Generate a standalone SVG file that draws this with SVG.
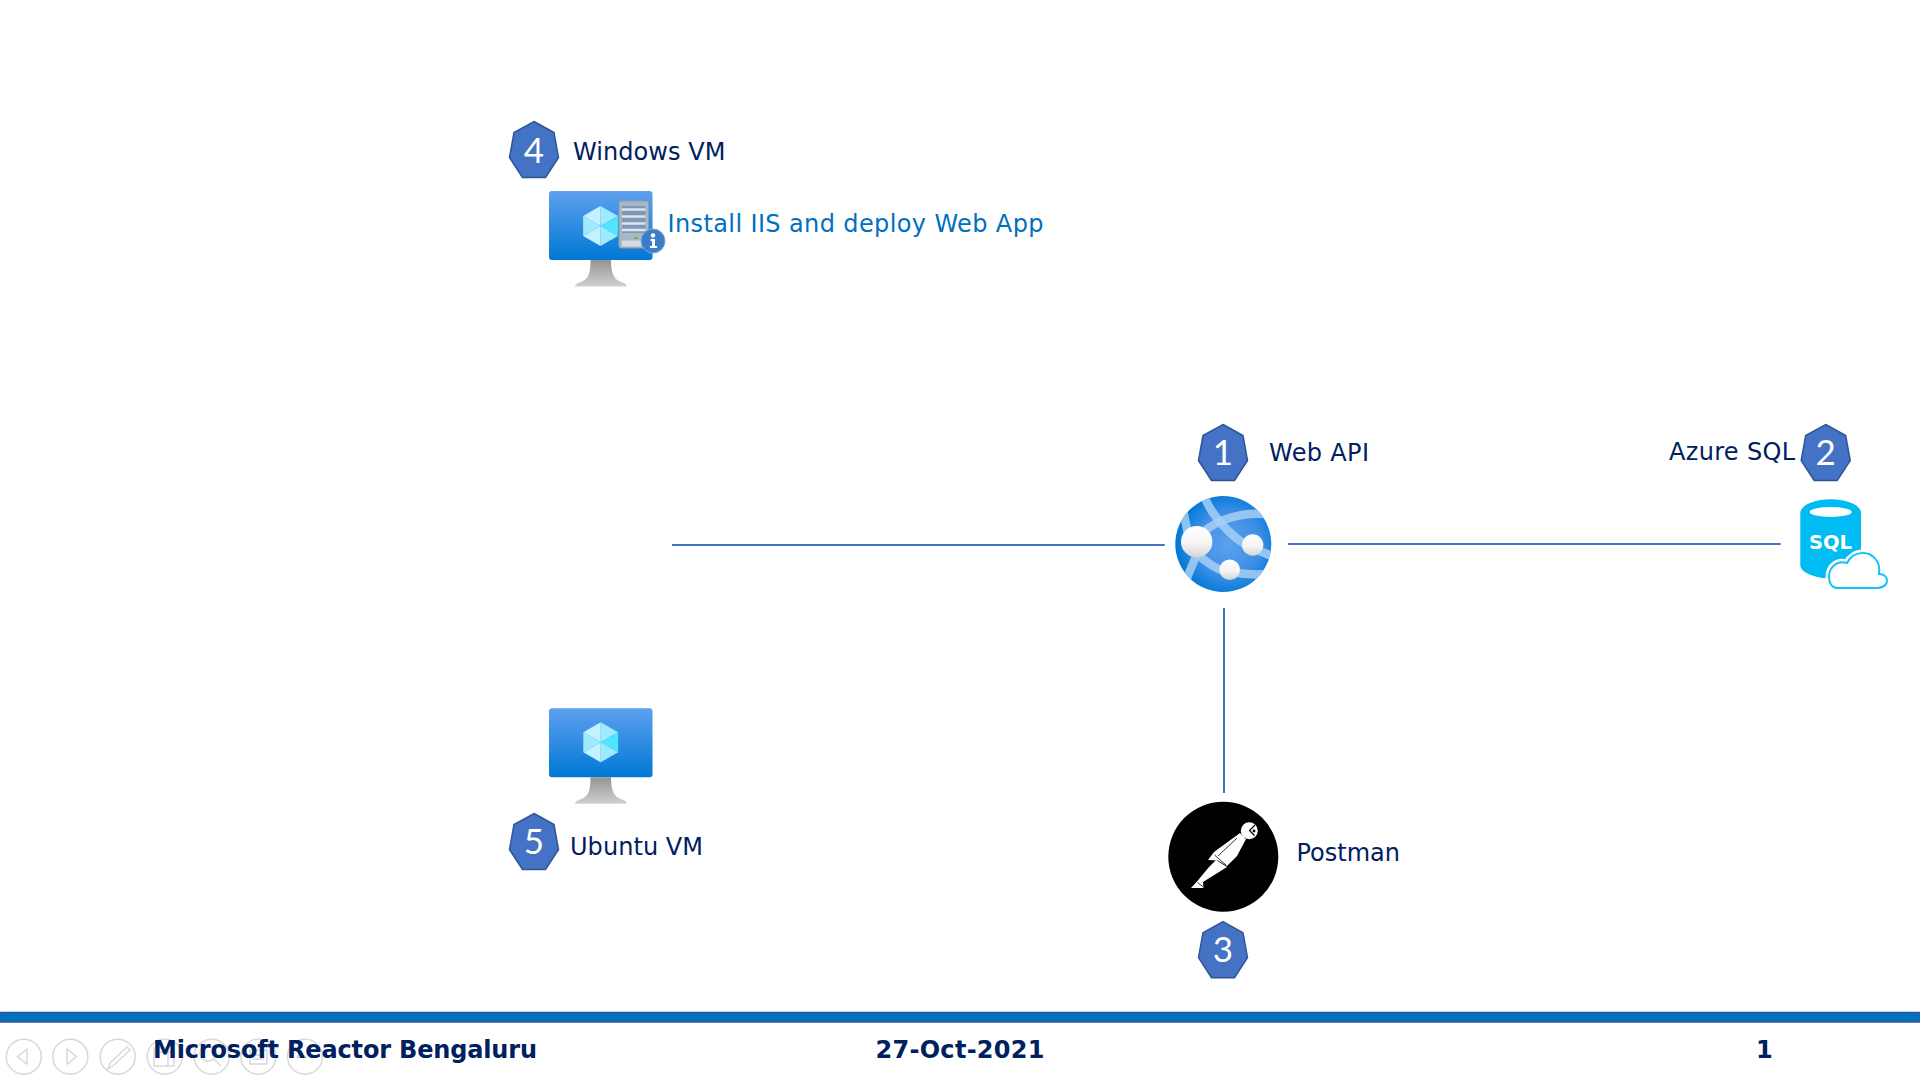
<svg xmlns="http://www.w3.org/2000/svg" xmlns:xlink="http://www.w3.org/1999/xlink" width="1920" height="1080" viewBox="0 0 1920 1080">
<style>
.t{font-family:"DejaVu Sans","Liberation Sans",sans-serif;font-size:24px;fill:#002060}
.f{font-weight:700}
.d{font-family:Lato,"Open Sans",sans-serif;font-size:35px;fill:#fff;text-anchor:middle}
.h{fill:#4472c4;stroke:#2f5597;stroke-width:1.5}
.c{fill:none;stroke:#4472c4;stroke-width:2}
.b{fill:none;stroke:#a6cff5;stroke-width:8.500;stroke-opacity:.85}
.tb{fill:none;stroke:#d9d9d9;stroke-width:1.5}
</style>
<defs>
<polygon id="hept" points="0,0 20,11 24.500,36 11.500,56 -11.500,56 -24.500,36 -20,11"/>
<linearGradient id="scr" x1="0" y1="0" x2="0" y2="1"><stop offset="0" stop-color="#5ea0ef"/><stop offset="1" stop-color="#0078d4"/></linearGradient>
<linearGradient id="std" x1="0" y1="0" x2="0" y2="1"><stop offset="0" stop-color="#949494"/><stop offset="1" stop-color="#d0d0d0"/></linearGradient>
<radialGradient id="globe" cx=".55" cy=".5" r=".55"><stop offset="0" stop-color="#5ea0ef"/><stop offset=".6" stop-color="#3d8fe6"/><stop offset="1" stop-color="#0078d4"/></radialGradient>
<linearGradient id="ball" x1="0" y1="0" x2="0" y2="1"><stop offset="0" stop-color="#fff"/><stop offset=".55" stop-color="#f5f5f5"/><stop offset="1" stop-color="#d4d4d4"/></linearGradient>
<clipPath id="gc"><circle cx="1223.300" cy="544" r="48"/></clipPath>
<g id="vm">
<rect x="0" y="0" width="103.500" height="69" rx="3" fill="url(#scr)"/>
<path d="M41.500 69H62C62 80 64 87 70 90C74 92 77 92 78 95.500H26C27 92 30 92 34 90C40 87 41.500 80 41.500 69Z" fill="url(#std)"/>
</g>
<g id="cube">
<polygon points="0,0 -17.400,-10 0,-20" fill="#c3f1ff"/>
<polygon points="0,0 0,-20 17.400,-10" fill="#9cebff"/>
<polygon points="0,0 17.400,-10 17.400,10" fill="#50e6ff"/>
<polygon points="0,0 17.400,10 0,20" fill="#9cebff"/>
<polygon points="0,0 0,20 -17.400,10" fill="#c3f1ff"/>
<polygon points="0,0 -17.400,10 -17.400,-10" fill="#9cebff"/>
</g>
</defs>
<rect width="1920" height="1080" fill="#fff"/>

<g id="connectors">
<line class="c" x1="672" y1="545" x2="1164.700" y2="545"/>
<line class="c" x1="1288" y1="544" x2="1780.700" y2="544"/>
<line class="c" x1="1224" y1="608" x2="1224" y2="793"/>
</g>

<g id="windows-vm">
<use href="#hept" class="h" x="534" y="121.500"/>
<text class="d" x="534" y="163">4</text>
<text class="t" x="573" y="160" textLength="152.500">Windows VM</text>
<use href="#vm" x="549" y="191"/>
<use href="#cube" x="600.500" y="226"/>
<rect x="619" y="201" width="29.500" height="47" rx="2" fill="#a9b6c4" stroke="#8d9cad"/>
<rect x="622" y="206" width="23.500" height="27" fill="#7f98b4"/>
<path d="M622 209.500H645.500M622 216.500H645.500M622 223.500H645.500M622 230H645.500" stroke="#dce5ee" stroke-width="2.500"/>
<rect x="622" y="240.500" width="23" height="6" fill="#d6dbe0"/>
<rect x="634.500" y="237" width="3" height="2" fill="#5fae3c"/>
<circle cx="653" cy="241" r="12" fill="#3d7cc9" stroke="#7aa7dc"/>
<circle cx="653" cy="235.500" r="2.200" fill="#fff"/>
<path d="M650.500 239H655V246H657V248H650V246H652V241H650.500Z" fill="#fff"/>
<text class="t" x="667.500" y="231.500" textLength="376" style="fill:#0070c0">Install IIS and deploy Web App</text>
</g>

<g id="web-api">
<use href="#hept" class="h" x="1223" y="424.500"/>
<text class="d" x="1223" y="465">1</text>
<text class="t" x="1269" y="461" textLength="100">Web API</text>
<circle cx="1223.300" cy="544" r="48" fill="url(#globe)"/>
<g clip-path="url(#gc)">
<path class="b" d="M1205 498C1212 516 1232 538 1250 547C1258 551 1266 553 1274 557"/>
<path class="b" d="M1264 514C1240 512 1218 520 1203 532L1192 542"/>
<path class="b" d="M1183 510L1190 543"/>
<path class="b" d="M1196 556L1187 578"/>
<path class="b" d="M1198 555C1208 563 1218 571 1230 572C1242 574 1254 575 1266 574"/>
</g>
<circle cx="1196.700" cy="541.700" r="15.700" fill="url(#ball)"/>
<circle cx="1252.700" cy="545" r="10.700" fill="url(#ball)"/>
<circle cx="1229.700" cy="569.700" r="10.300" fill="url(#ball)"/>
</g>

<g id="azure-sql">
<use href="#hept" class="h" x="1825.700" y="424.500"/>
<text class="d" x="1825.700" y="465">2</text>
<text class="t" x="1669" y="460" textLength="126">Azure SQL</text>
<path d="M1800.300 513C1800.300 505 1815 499.300 1830.700 499.300S1861 505 1861 513V565C1861 573 1845 578.500 1830.700 578.500S1800.300 573 1800.300 565Z" fill="#00bcf2"/>
<ellipse cx="1830.700" cy="512" rx="21" ry="5" fill="#fff"/>
<text x="1809" y="549.300" style="font-family:'DejaVu Sans',sans-serif;font-weight:700;font-size:19.500px;fill:#fff">SQL</text>
<path d="M1837 588H1877C1884 588 1887 584 1887 581C1887 577 1884 574 1879 574C1881 562 1873 553 1863 553C1856 553 1850 557 1847 563C1836 560 1829 568 1829 577C1829 583 1832 588 1837 588Z" fill="#fff" stroke="#fff" stroke-width="7"/>
<path d="M1837 588H1877C1884 588 1887 584 1887 581C1887 577 1884 574 1879 574C1881 562 1873 553 1863 553C1856 553 1850 557 1847 563C1836 560 1829 568 1829 577C1829 583 1832 588 1837 588Z" fill="#fff" stroke="#12c3f5" stroke-width="2"/>
</g>

<g id="postman">
<circle cx="1223.300" cy="856.700" r="55" fill="#000"/>
<circle cx="1249.300" cy="830.700" r="8.500" fill="#fff"/>
<path d="M1255 825L1249.500 830.500L1254.500 835.500" fill="none" stroke="#000" stroke-width="1.200"/>
<circle cx="1254" cy="831" r="1.400" fill="#000"/>
<polygon points="1240,833 1246,839 1237,856 1227,866 1218,860.500 1208,860 1214,852" fill="#fff"/>
<polygon points="1227,867 1203,882 1203.500,888 1191,888 1197,881.500 1209,867 1216,860" fill="#fff"/>
<path d="M1237 838L1218 856M1214.500 855L1226 865" fill="none" stroke="#000" stroke-width=".8"/>
<path d="M1197.500 882.500L1203.500 887" fill="none" stroke="#000" stroke-width=".8"/>
<text class="t" x="1296.500" y="861" textLength="103.500">Postman</text>
<use href="#hept" class="h" x="1223" y="921.700"/>
<text class="d" x="1223" y="962">3</text>
</g>

<g id="ubuntu-vm">
<use href="#vm" x="549" y="708.300"/>
<use href="#cube" x="600.700" y="742.300"/>
<use href="#hept" class="h" x="534" y="813.500"/>
<text class="d" x="534" y="854">5</text>
<text class="t" x="570" y="855" textLength="133">Ubuntu VM</text>
</g>

<g id="toolbar">
<circle class="tb" cx="23.800" cy="1056.700" r="17.500"/><path class="tb" d="M27 1049L17.500 1056.700L27 1064Z"/>
<circle class="tb" cx="70.300" cy="1056.700" r="17.500"/><path class="tb" d="M67 1049L76.500 1056.700L67 1064Z"/>
<circle class="tb" cx="117.700" cy="1056.700" r="17.500"/><path class="tb" d="M127 1047L130 1050L114 1065L108 1069L110 1063Z"/>
<circle class="tb" cx="164.700" cy="1056.700" r="17.500"/><path class="tb" d="M154 1048H168V1066H154ZM160 1052H174V1066H160"/>
<circle class="tb" cx="211.700" cy="1056.700" r="17.500"/><circle class="tb" cx="208" cy="1053" r="8"/><path class="tb" d="M214 1059L221 1066"/>
<circle class="tb" cx="258.300" cy="1056.700" r="17.500"/><path class="tb" d="M250 1050H267V1064H250ZM253 1055H264M253 1059H264"/>
<circle class="tb" cx="305" cy="1056.700" r="17.500"/><circle class="tb" cx="298" cy="1057" r="1"/><circle class="tb" cx="305" cy="1057" r="1"/><circle class="tb" cx="312" cy="1057" r="1"/>
</g>

<g id="footer">
<rect x="0" y="1012.500" width="1920" height="9.500" fill="#0070c0" stroke="#2f5597" stroke-width="1.500"/>
<text class="t f" x="153" y="1058" textLength="384">Microsoft Reactor Bengaluru</text>
<text class="t f" x="875.500" y="1058" textLength="169">27-Oct-2021</text>
<text class="t f" x="1756" y="1058">1</text>
</g>
</svg>
